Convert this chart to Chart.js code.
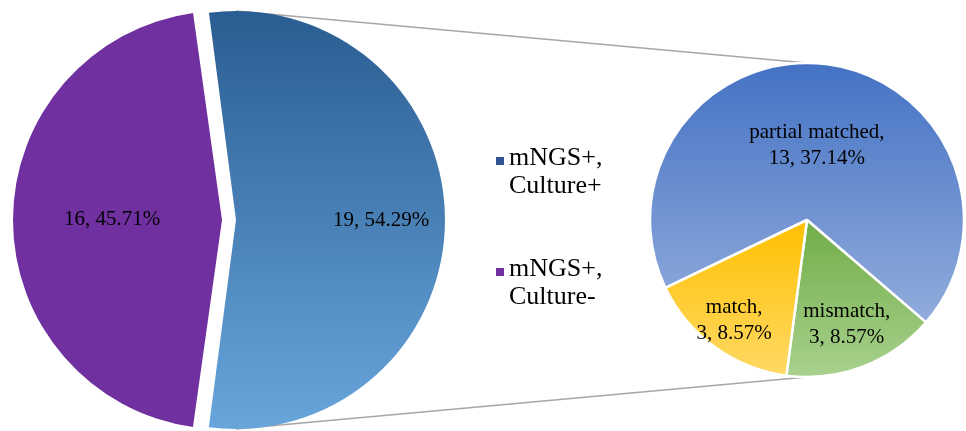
<!DOCTYPE html>
<html>
<head>
<meta charset="utf-8">
<script src="https://cdn.jsdelivr.net/npm/chart.js@4.4.1/dist/chart.umd.min.js"></script>
<style>
  body { margin: 0; background: #fff; }
  #wrap { position: relative; width: 966px; height: 431px; overflow: hidden; }
  #wrap canvas { position: absolute; left: 0; top: 0; }
  #subChart { z-index: 1; }
  #mainChart { z-index: 2; }
  #legend { position: absolute; left: 494px; top: 143px; z-index: 3;
    font-family: "Liberation Serif", "Times New Roman", serif; font-size: 26px; line-height: 28px; color: #000; }
  .item { position: relative; padding-left: 15px; margin-bottom: 55px; }
  .box { position: absolute; left: 2px; top: 14px; width: 8px; height: 8px; }
</style>
</head>
<body>
<div id="wrap">
  <canvas id="subChart" width="966" height="431"></canvas>
  <canvas id="mainChart" width="966" height="431"></canvas>
  <div id="legend"></div>
</div>
<script>
// data
const mainLabels = [["mNGS+,", "Culture+"], ["mNGS+,", "Culture-"]];
const mainValues = [19, 16];
const subLabels = ["partial matched,", "mismatch,", "match,"];
const subValues = [13, 3, 3];

const total = mainValues.reduce((a, b) => a + b, 0);
const pct = v => (v / total * 100).toFixed(2) + "%";

// vertical gradient across the circle (from frac0 to frac1 of the diameter)
function vGrad(chart, radius, f0, f1, c0, c1) {
  const a = chart.chartArea;
  if (!a) return c0;
  const cy = (a.top + a.bottom) / 2;
  const g = chart.ctx.createLinearGradient(0, cy - radius + 2 * radius * f0, 0, cy - radius + 2 * radius * f1);
  g.addColorStop(0, c0);
  g.addColorStop(1, c1);
  return g;
}

// chart.js v4 arc offset: moves the arc by o = offset/4 and grows its radius by o*fix
const arcFix = c => 1 - Math.sin(Math.min(Math.PI, c));
const shiftOf = el => (el.options.offset || 0) / 4;
const growOf = el => (el.options.offset || 0) / 4 * arcFix(el.circumference);

// offsets for the main pie so both slices keep the same radius and leave a GAP px split
const GAP = 14;
const MAIN_R = 209;
const mainFix = mainValues.map(v => arcFix(v / total * 2 * Math.PI));
const kOff = GAP / mainFix.reduce((s, f) => s + 1 / f, 0);
const mainOffsets = mainFix.map(f => 4 * kOff / f);
const mainCx = 222 + kOff / mainFix[1];

const sliceLabels = {
  id: "sliceLabels",
  afterDatasetsDraw(chart, args, opts) {
    const ctx = chart.ctx;
    const meta = chart.getDatasetMeta(0);
    ctx.save();
    ctx.font = opts.font;
    ctx.fillStyle = "#000";
    ctx.textAlign = "center";
    ctx.textBaseline = "middle";
    meta.data.forEach((el, i) => {
      const p = el.getProps(["x", "y", "startAngle", "endAngle", "outerRadius"], true);
      const mid = (p.startAngle + p.endAngle) / 2;
      const d = shiftOf(el) + opts.fracs[i] * (p.outerRadius + growOf(el));
      const x = p.x + Math.cos(mid) * d;
      const y = p.y + Math.sin(mid) * d;
      const lines = opts.text(i);
      lines.forEach((t, j) => {
        ctx.fillText(t, x, y + (j - (lines.length - 1) / 2) * opts.lineHeight);
      });
    });
    ctx.restore();
  }
};

const mainChart = new Chart(document.getElementById("mainChart"), {
  type: "pie",
  data: {
    labels: mainLabels,
    datasets: [{
      data: mainValues,
      backgroundColor: c => c.dataIndex === 0
        ? vGrad(c.chart, MAIN_R, 0, 1, "#2A5D92", "#68A5DB")
        : "#7030A0",
      borderWidth: 0,
      offset: mainOffsets,
      hoverOffset: 0,
      radius: MAIN_R - kOff,
      clip: false
    }]
  },
  options: {
    responsive: false,
    animation: false,
    rotation: -7.7,
    layout: { padding: { left: 0, right: 966 - 2 * mainCx, top: 9, bottom: 0 } },
    events: [],
    plugins: {
      legend: { display: false },
      tooltip: { enabled: false },
      sliceLabels: {
        font: '21px "Liberation Serif", serif',
        lineHeight: 27,
        fracs: [0.694, 0.526],
        text: i => [mainValues[i] + ", " + pct(mainValues[i])]
      }
    }
  },
  plugins: [sliceLabels]
});

const SUB_R = 157;
const subFills = [
  ["#4472C4", "#A2B8E1", 0, 1],
  ["#70AD47", "#A9D18E", 0.5, 1],
  ["#FFC000", "#FFD966", 0.5, 1]
];

// grey connector lines from the exploded slice to the secondary pie
const connectors = {
  id: "connectors",
  beforeDatasetsDraw(chart) {
    const src = mainChart.getDatasetMeta(0).data[0];
    const dst = chart.getDatasetMeta(0).data[0];
    if (!src || !dst) return;
    const sx = src.x + shiftOf(src);
    const sr = src.outerRadius + growOf(src);
    const ctx = chart.ctx;
    ctx.save();
    ctx.strokeStyle = "#A6A6A6";
    ctx.lineWidth = 1.5;
    ctx.beginPath();
    ctx.moveTo(sx, src.y - sr);
    ctx.lineTo(dst.x, dst.y - dst.outerRadius);
    ctx.moveTo(sx, src.y + sr);
    ctx.lineTo(dst.x, dst.y + dst.outerRadius);
    ctx.stroke();
    ctx.restore();
  }
};

new Chart(document.getElementById("subChart"), {
  type: "pie",
  data: {
    labels: subLabels,
    datasets: [{
      data: subValues,
      backgroundColor: c => {
        const f = subFills[c.dataIndex];
        return vGrad(c.chart, SUB_R, f[2], f[3], f[0], f[1]);
      },
      borderColor: "#fff",
      borderWidth: 2.5,
      hoverOffset: 0,
      radius: SUB_R,
      clip: false
    }]
  },
  options: {
    responsive: false,
    animation: false,
    rotation: 244.4,
    layout: { padding: { left: 648, right: 0, top: 9, bottom: 0 } },
    events: [],
    plugins: {
      legend: { display: false },
      tooltip: { enabled: false },
      sliceLabels: {
        font: '21px "Liberation Serif", serif',
        lineHeight: 26,
        fracs: [0.48, 0.71, 0.79],
        text: i => [subLabels[i], subValues[i] + ", " + pct(subValues[i])]
      }
    }
  },
  plugins: [connectors, sliceLabels]
});

// html legend for the main pie
const legendColors = ["#2F5597", "#7030A0"];
document.getElementById("legend").innerHTML = mainLabels.map((l, i) =>
  '<div class="item"><span class="box" style="background:' + legendColors[i] + '"></span>' +
  l.join("<br>") + "</div>").join("");
</script>
</body>
</html>
